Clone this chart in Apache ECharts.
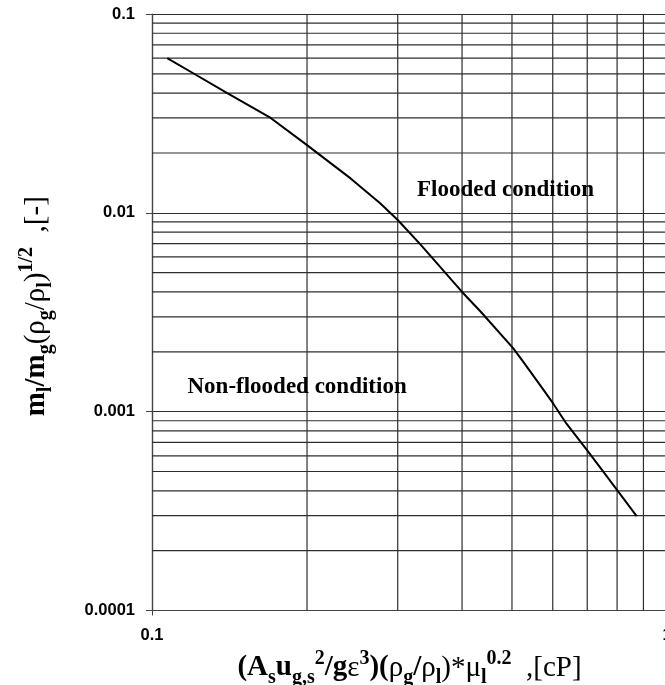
<!DOCTYPE html>
<html>
<head>
<meta charset="utf-8">
<title>Flooding correlation</title>
<script src="https://cdn.jsdelivr.net/npm/echarts@6/dist/echarts.min.js"></script>
<style>
    html, body { margin: 0; padding: 0; background: #fff; }
    #chart { width: 665px; height: 685px; }
</style>
</head>
<body>
<div id="chart"></div>
<script>
// flooding line
const xValues = [0.107, 0.12, 0.14, 0.17, 0.2, 0.243, 0.277, 0.3, 0.331, 0.4, 0.434, 0.503, 0.526, 0.567, 0.601, 0.638, 0.703, 0.805, 0.873];
const yValues = [0.06, 0.0505, 0.04, 0.03, 0.0219, 0.0149, 0.0112, 0.0092, 0.007, 0.004, 0.0032, 0.00208, 0.00178, 0.00136, 0.0011, 0.00087, 0.00063, 0.000395, 0.000298];

// axis tick labels (decades) and the minor grid lines between them
const xTickLabels = ['0.1', '1'];
const yTickLabels = ['0.0001', '0.001', '0.01', '0.1'];
const xMinorTicks = [0.2, 0.3, 0.4, 0.5, 0.6, 0.7, 0.8, 0.9];
const yMinorTicks = [
    0.0002, 0.0003, 0.0004, 0.0005, 0.0006, 0.0007, 0.0008, 0.0009,
    0.002, 0.003, 0.004, 0.005, 0.006, 0.007, 0.008, 0.009,
    0.02, 0.03, 0.04, 0.05, 0.06, 0.07, 0.08, 0.09
];

const regionLabels = ['Flooded condition', 'Non-flooded condition'];

const xMin = 0.1, xMax = 1;
const yMin = 0.0001, yMax = 0.1;

const serif = '"Liberation Serif", "Times New Roman", serif';
const sans = '"Liberation Sans", Arial, sans-serif';

// rich styles for the axis titles (sub / superscripts)
const nameRich = {
    b: { fontFamily: serif, fontWeight: 'bold', fontSize: 29, lineHeight: 39, color: '#000' },
    r: { fontFamily: serif, fontWeight: 'normal', fontSize: 29, lineHeight: 39, color: '#000' },
    bs: { fontFamily: serif, fontWeight: 'bold', fontSize: 20, lineHeight: 20, verticalAlign: 'bottom', color: '#000' },
    bp: { fontFamily: serif, fontWeight: 'bold', fontSize: 20, lineHeight: 20, verticalAlign: 'top', color: '#000' }
};

const xName = '{b|(A}{bs|s}{b|u}{bs|g,s}{bp|2}{b|/g}{r|ε}{bp|3}{b|)(}{r|ρ}{bs|g}{b|/}{r|ρ}{bs|l}{r|)*μ}{bs|l}{bp|0.2}{r|  ,[cP]}';
const yName = '{b|m}{bs|l}{b|/m}{bs|g}{r|(ρ}{bs|g}{r|/ρ}{bs|l}{r|)}{bp|1/2}{r|  ,[-]}';

const pickLabel = labels => v => labels.find(t => Math.abs(Math.log10(+t) - Math.log10(v)) < 1e-6) || '';

const gridColor = '#2e2e2e';
const gridWidth = 1.2;

// one thin line series per minor grid line, placed through the axes
const gridSeries = [
    ...xMinorTicks.map(v => [[v, yMin], [v, yMax]]),
    ...yMinorTicks.map(v => [[xMin, v], [xMax, v]])
].map(pts => ({
    type: 'line',
    data: pts,
    z: 1,
    silent: true,
    showSymbol: false,
    lineStyle: { color: gridColor, width: gridWidth },
    emphasis: { disabled: true }
}));

const chart = echarts.init(document.getElementById('chart'), null, { renderer: 'canvas' });

chart.setOption({
    animation: false,
    backgroundColor: '#fff',
    grid: {
        left: 152,
        top: 14,
        width: 515,
        height: 596.5,
        containLabel: false,
        outerBoundsMode: 'none'
    },
    xAxis: {
        type: 'log',
        logBase: 10,
        min: xMin,
        max: xMax,
        name: xName,
        nameLocation: 'middle',
        nameGap: 33,
        nameTextStyle: { rich: nameRich },
        axisLine: { show: true, lineStyle: { color: '#444', width: 1.2 } },
        axisTick: { show: true, length: 5, lineStyle: { color: '#444' } },
        axisLabel: {
            margin: 16,
            fontFamily: sans,
            fontWeight: 'bold',
            fontSize: 16.5,
            color: '#000',
            formatter: pickLabel(xTickLabels)
        },
        splitLine: { show: true, lineStyle: { color: gridColor, width: gridWidth } }
    },
    yAxis: {
        type: 'log',
        logBase: 10,
        min: yMin,
        max: yMax,
        name: yName,
        nameLocation: 'middle',
        nameGap: 96,
        nameTextStyle: { rich: nameRich, padding: [0, 0, 0, 12] },
        axisLine: { show: true, lineStyle: { color: '#444', width: 1.2 } },
        axisTick: { show: true, length: 6, lineStyle: { color: '#444' } },
        axisLabel: {
            margin: 17,
            fontFamily: sans,
            fontWeight: 'bold',
            fontSize: 16.5,
            color: '#000',
            formatter: pickLabel(yTickLabels)
        },
        splitLine: { show: true, lineStyle: { color: gridColor, width: gridWidth } }
    },
    series: [
        ...gridSeries,
        {
            name: 'flooding line',
            type: 'line',
            z: 3,
            showSymbol: false,
            smooth: false,
            lineStyle: { color: '#000', width: 2 },
            data: xValues.map((x, i) => [x, yValues[i]])
        }
    ],
    graphic: [
        {
            type: 'text',
            x: 417,
            y: 190,
            z: 10,
            style: {
                text: regionLabels[0],
                font: 'bold 23px ' + serif,
                fill: '#000',
                align: 'left',
                verticalAlign: 'middle'
            }
        },
        {
            type: 'text',
            x: 187.5,
            y: 387,
            z: 10,
            style: {
                text: regionLabels[1],
                font: 'bold 23px ' + serif,
                fill: '#000',
                align: 'left',
                verticalAlign: 'middle'
            }
        }
    ]
});
</script>
</body>
</html>
